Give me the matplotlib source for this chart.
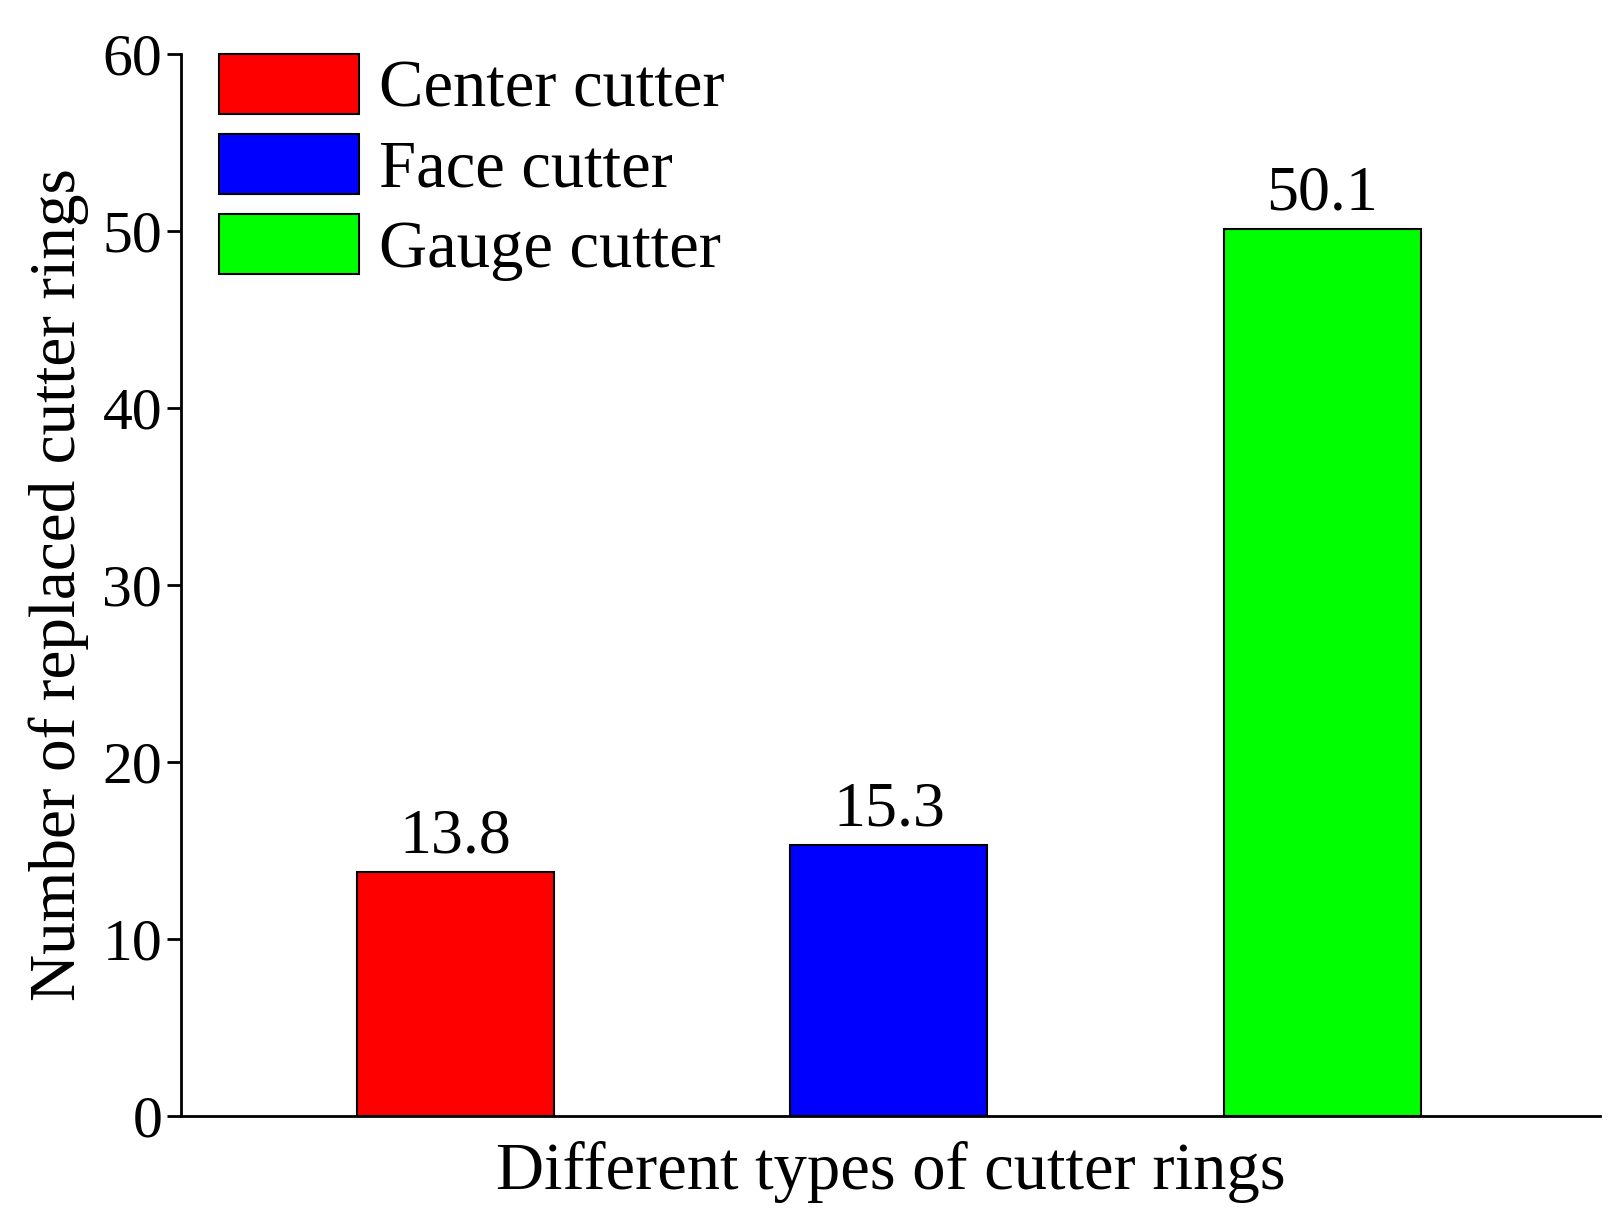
import matplotlib
matplotlib.use("Agg")
import matplotlib.pyplot as plt

categories = ["Center cutter", "Face cutter", "Gauge cutter"]
values = [13.8, 15.3, 50.1]
colors = ["#ff0000", "#0000ff", "#00ff00"]
yticks = [0, 10, 20, 30, 40, 50, 60]

plt.rcParams['font.family'] = ['Liberation Serif', 'DejaVu Serif']
fig = plt.figure(figsize=(16.16, 12.25), dpi=100)
ax = fig.add_axes([0.112, 0.089, 0.878, 0.867])
xs = range(len(values))
bars = ax.bar(xs, values, width=0.455, color=colors, edgecolor='black', linewidth=1.5, label=categories)
for x, v in zip(xs, values):
    ax.text(x, v + 0.3, f"{v}", ha='center', va='bottom', fontsize=46)
ax.set_xlim(-0.634, 2.641)
ax.set_ylim(0, 60)
ax.set_yticks(yticks)
ax.set_xticks([])
ax.tick_params(axis='y', labelsize=43, width=2, length=10, direction='out')
for s in ['top', 'right']:
    ax.spines[s].set_visible(False)
for s in ['left', 'bottom']:
    ax.spines[s].set_linewidth(2)
ax.set_ylabel("Number of replaced cutter rings", fontsize=47, labelpad=10)
ax.set_xlabel("Different types of cutter rings", fontsize=48, labelpad=18)
ax.legend(handles=bars, labels=categories, loc='upper left', fontsize=48, frameon=False,
          handlelength=2.1, handleheight=1.0, borderaxespad=0.0, borderpad=0.0,
          labelspacing=0.2, handletextpad=0.3, bbox_to_anchor=(0.027, 1.0))
fig.savefig("out.png", dpi=100)
